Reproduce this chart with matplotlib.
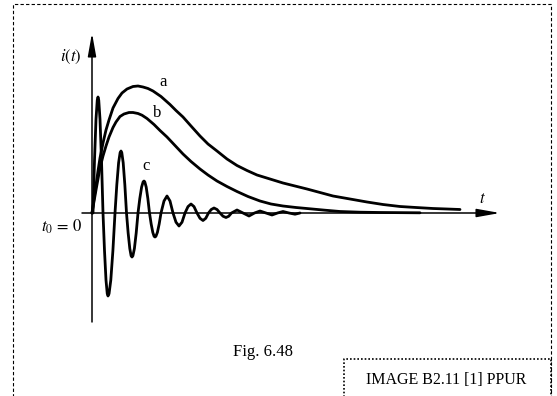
import matplotlib
matplotlib.use('Agg')
import matplotlib.pyplot as plt
from matplotlib.lines import Line2D

plt.rcParams['mathtext.fontset'] = 'stix'
plt.rcParams['font.family'] = ['Liberation Serif', 'DejaVu Serif']

# curve a: slow response
t_a = [0.0, 0.2, 0.4, 0.6, 0.8, 1.1, 1.4, 1.7, 2.1, 2.6, 3.0, 3.5, 4.1, 4.6, 5.1,
       5.6, 6.1, 6.9, 7.8, 8.4, 9.1, 9.9, 10.8, 11.6, 12.5, 13.5, 14.5, 15.5, 16.5,
       17.8, 19.1, 20.3, 21.5, 22.8, 24.1, 25.8, 27.5, 29.1, 30.8, 32.4, 34.1,
       35.5, 36.8]
i_a = [0.0, 1.4, 2.8, 4.2, 5.5, 7.0, 8.3, 9.3, 10.5, 11.45, 12.0, 12.4, 12.65,
       12.7, 12.6, 12.45, 12.2, 11.65, 10.85, 10.25, 9.6, 8.7, 7.7, 6.9, 6.2, 5.4,
       4.75, 4.25, 3.8, 3.4, 3.0, 2.7, 2.4, 2.05, 1.7, 1.4, 1.1, 0.85, 0.65, 0.55,
       0.45, 0.4, 0.35]

# curve b: critical-ish response
t_b = [0.0, 0.2, 0.4, 0.6, 0.8, 1.1, 1.4, 1.7, 2.1, 2.4, 2.8, 3.2, 3.7, 4.1, 4.6,
       5.0, 5.5, 6.2, 6.8, 7.5, 8.3, 9.1, 9.9, 10.8, 11.6, 12.5, 13.5, 14.5, 15.6,
       16.8, 17.9, 19.1, 20.4, 21.8, 23.3, 24.8, 26.8, 28.8, 32.8]
i_b = [0.0, 1.15, 2.3, 3.4, 4.5, 5.7, 6.7, 7.6, 8.55, 9.1, 9.65, 9.9, 10.05,
       10.05, 9.95, 9.78, 9.45, 8.85, 8.25, 7.6, 6.75, 5.9, 5.15, 4.4, 3.8, 3.2,
       2.65, 2.15, 1.65, 1.2, 0.9, 0.7, 0.55, 0.42, 0.28, 0.15, 0.08, 0.05, 0.02]

# curve c: damped oscillation
t_c = [0.0, 0.1, 0.25, 0.4, 0.525, 0.6, 0.675, 0.8, 0.95, 1.1,
       1.25, 1.4, 1.525, 1.6, 1.705, 1.88, 2.09, 2.3,
       2.48, 2.66, 2.81, 2.9, 2.98, 3.12, 3.285, 3.45,
       3.615, 3.78, 3.91, 4.0, 4.09, 4.24, 4.42, 4.6,
       4.78, 4.96, 5.11, 5.2, 5.28, 5.42, 5.585, 5.75,
       5.915, 6.08, 6.21, 6.3, 6.39, 6.54, 6.72, 6.9,
       7.2, 7.5, 7.8, 8.1, 8.4, 8.7, 9.0, 9.3,
       9.6, 9.9, 10.2, 10.5, 10.8, 11.1, 11.375, 11.65,
       11.925, 12.2, 12.5, 12.8, 13.1, 13.4, 13.675, 13.95,
       14.5, 15.1, 15.7, 16.25, 16.8, 17.4, 18.0, 18.55,
       19.1, 19.7, 20.3, 20.8]
i_c = [0.0, 0.0, 5.27, 9.38, 11.28, 11.6, 11.28, 9.38, 5.27, 0.0,
       -3.77, -6.71, -8.07, -8.3, -8.07, -6.71, -3.77, 0.0,
       2.81, 5.02, 6.03, 6.2, 6.03, 5.02, 2.81, 0.0,
       -2.0, -3.56, -4.28, -4.4, -4.28, -3.56, -2.0, 0.0,
       1.45, 2.59, 3.11, 3.2, 3.11, 2.59, 1.45, 0.0,
       -1.09, -1.94, -2.33, -2.4, -2.33, -1.94, -1.09, 0.0,
       1.2, 1.7, 1.2, 0.0, -0.92, -1.3, -0.92, 0.0,
       0.64, 0.9, 0.64, 0.0, -0.53, -0.75, -0.53, 0.0,
       0.35, 0.5, 0.35, 0.0, -0.32, -0.45, -0.32, 0.0,
       0.3, 0.0, -0.3, 0.0, 0.2, 0.0, -0.2, 0.0,
       0.15, 0.0, -0.12, 0.0]

curve_names = ['a', 'b', 'c']

W, H = 557, 396


def px(x, y):
    # pixel position -> figure fraction
    return x / W, 1 - y / H


fig = plt.figure(figsize=(W / 100, H / 100), dpi=100)
ax = fig.add_axes([0, 0, 1, 1])
ax.set_xlim(-9.2, 46.5)
ax.set_ylim(-18.3, 21.3)
ax.axis('off')

# axes with arrows
arrow = dict(arrowstyle='-|>,head_length=1.4,head_width=0.25', color='black',
             lw=1.1, mutation_scale=10, shrinkA=0, shrinkB=0)
ax.annotate('', xy=(40.8, 0), xytext=(-1.0, 0), arrowprops=arrow)
ax.annotate('', xy=(0, 18.0), xytext=(0, -10.9), arrowprops=arrow)

for t, i in [(t_a, i_a), (t_b, i_b), (t_c, i_c)]:
    ax.plot(t, i, color='black', lw=2.0, solid_capstyle='round', solid_joinstyle='round')

# labels
fig.text(*px(71, 57), r'$i(t)$', ha='center', va='center', fontsize=12)
fig.text(*px(482, 199), r'$t$', ha='center', va='center', fontsize=12)
fig.text(*px(62, 227), r'$t_0\,=\,0$', ha='center', va='center', fontsize=12)
for name, (x, y) in zip(curve_names, [(163, 82), (157, 113), (146, 166)]):
    fig.text(*px(x, y), name, ha='center', va='center', fontsize=12)
fig.text(*px(263, 352), 'Fig. 6.48', ha='center', va='center', fontsize=12)
fig.text(*px(446, 380), 'IMAGE B2.11 [1] PPUR', ha='center', va='center', fontsize=11.5)

# page borders
xs, ys = zip(*[px(13, 400), px(13, 4), px(551, 4), px(551, 400)])
fig.add_artist(Line2D(xs, ys, color='black', lw=0.8, linestyle=(0, (3, 2))))
xs, ys = zip(*[px(344, 400), px(344, 359), px(551, 359), px(551, 400)])
fig.add_artist(Line2D(xs, ys, color='black', lw=1.2, linestyle=(0, (1, 1.2))))

fig.savefig('out.png', dpi=100)
